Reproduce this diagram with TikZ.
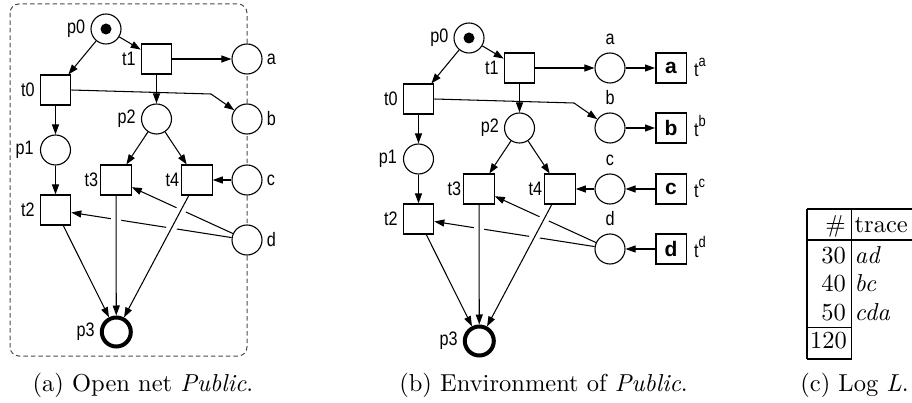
\documentclass[tikz,border=0pt]{standalone}
\usepackage{fontspec}
\usetikzlibrary{arrows.meta}
\setmainfont{lmroman10-regular}[Extension=.otf, ItalicFont=lmroman10-italic]
\newfontfamily\netfont[FakeStretch=0.83]{Liberation Sans}
\newfontfamily\boxfont{Liberation Sans}
\newcommand\lblsize{\netfont\fontsize{19.5}{21}\selectfont}
\newcommand\boxsize{\boxfont\bfseries\fontsize{21}{23}\selectfont}
\newcommand\capsize{\fontsize{24.5}{29}\selectfont}
\newcommand\envlabel[1]{t\raisebox{10pt}{\fontsize{15.5}{15.5}\selectfont #1}}

\tikzset{
  place/.style={circle, draw, fill=white, minimum size=30pt, inner sep=0pt, line width=1.1pt},
  trans/.style={rectangle, draw, fill=white, minimum width=30.5pt, minimum height=30pt, inner sep=0pt, line width=1.1pt},
  finalplace/.style={place, minimum size=29pt, line width=4pt},
  envbox/.style={trans, line width=1.5pt, font=\boxsize},
  arc/.style={-{Triangle[length=10pt,width=7pt]}, line width=1.05pt},
  halo/.style={draw=white, line width=10pt, shorten <=6pt, shorten >=45pt},
  lbl/.style={font=\lblsize, inner sep=1pt},
  captext/.style={font=\capsize, inner sep=0pt},
  rule/.style={line width=1.1pt},
  openborder/.style={draw=black!70, line width=1pt, dash pattern=on 4.5pt off 3pt, rounded corners=9pt},
}

% the open net Public; #1 places the labels of the interface places
\newcommand\publicnet[1]{%
  \node[place, label={[lbl,label distance=4pt]left:p0}] (p0) at (106,29) {};
  \fill (p0) circle (5.5pt);
  \node[trans, label={[lbl,label distance=4pt]left:t1}] (t1) at (156.5,59) {};
  \node[trans, label={[lbl,label distance=4pt]left:t0}] (t0) at (55.5,90) {};
  \node[place, label={[lbl,label distance=4pt]left:p2}] (p2) at (156.5,119) {};
  \node[place, label={[lbl,label distance=5pt]left:p1}] (p1) at (55.5,150) {};
  \node[trans, label={[lbl,label distance=1pt]left:t3}] (t3) at (116,180) {};
  \node[trans, label={[lbl,label distance=1pt]left:t4}] (t4) at (197,180) {};
  \node[trans, label={[lbl,label distance=4pt]left:t2}] (t2) at (55.5,210) {};
  \node[finalplace, label={[lbl,label distance=4pt]left:p3}] (p3) at (116.3,332) {};
  \node[place, label={#1:a}] (a) at (247,59) {};
  \node[place, label={#1:b}] (b) at (247,119) {};
  \node[place, label={#1:c}] (c) at (247,180) {};
  \node[place, label={#1:d}] (d) at (247,240) {};
  \coordinate (bend) at (211,94);
  \draw[arc] (p0) -- (t0);
  \draw[arc] (p0) -- (t1);
  \draw[arc] (t1) -- (a);
  \draw[arc] (t1) -- (p2);
  \draw[arc] (t0.east) -- (bend) -- (b);
  \draw[arc] (t0) -- (p1);
  \draw[arc] (p1) -- (t2);
  \draw[arc] (p2) -- (t3);
  \draw[arc] (p2) -- (t4);
  \draw[arc] (c) -- (t4);
  \draw[arc] (d) -- (t2);
  \draw[arc] (d) -- (t3);
  \draw[halo] (t3) -- (p3);
  \draw[halo] (t4) -- (p3);
  \draw[arc] (t2) -- (p3);
  \draw[arc] (t3) -- (p3);
  \draw[arc] (t4) -- (p3);
}

\begin{document}
\begin{tikzpicture}[x=1pt, y=-1pt]
\useasboundingbox (0,0) rectangle (912,403);

% (a) the open net with its interface on the border
\begin{scope}[name prefix=A-]
  \draw[openborder] (10,4) rectangle (247,356);
  \publicnet{[lbl,label distance=3pt]right}
\end{scope}
\node[captext, anchor=base] (capa) at (143,391) {(a) Open net \textit{Public}.};

% (b) the net together with its environment transitions
\begin{scope}[shift={(363,9)}, name prefix=B-]
  \publicnet{[lbl,label distance=7pt]above}
  \node[envbox] (ta) at (308,59) {a};
  \node[envbox] (tb) at (308,119) {b};
  \node[envbox] (tc) at (308,180) {c};
  \node[envbox] (td) at (308,240) {d};
  \node[lbl, anchor=base west, inner sep=0pt] (la) at (331,68) {\envlabel{a}};
  \node[lbl, anchor=base west, inner sep=0pt] (lb) at (331,128) {\envlabel{b}};
  \node[lbl, anchor=base west, inner sep=0pt] (lc) at (331,189) {\envlabel{c}};
  \node[lbl, anchor=base west, inner sep=0pt] (ld) at (331,249) {\envlabel{d}};
  \draw[arc] (a) -- (ta);
  \draw[arc] (b) -- (tb);
  \draw[arc] (tc) -- (c);
  \draw[arc] (td) -- (d);
\end{scope}
\node[captext, anchor=base] (capb) at (543.5,391) {(b) Environment of \textit{Public}.};

% (c) the event log
\draw[rule] (807,209) -- (912,209);
\draw[rule] (807,240) -- (912,240);
\draw[rule] (807,209) -- (807,359);
\draw[rule] (851.5,209) -- (851.5,359);
\draw[rule] (807,327.5) -- (851.5,327.5);
\draw[rule] (807,359) -- (851.5,359);
\node[captext, anchor=base east] (hnum) at (846,233) {\#};
\node[captext, anchor=base west] (htr) at (854.5,233) {trace};
\node[captext, anchor=base east] (n1) at (846,263) {30};
\node[captext, anchor=base west] (s1) at (854.5,263) {\textit{ad}};
\node[captext, anchor=base east] (n2) at (846,291) {40};
\node[captext, anchor=base west] (s2) at (854.5,291) {\textit{bc}};
\node[captext, anchor=base east] (n3) at (846,320) {50};
\node[captext, anchor=base west] (s3) at (854.5,320) {\textit{cda}};
\node[captext, anchor=base east] (ntot) at (847,348) {120};
\node[captext, anchor=base] (capc) at (854.5,391) {(c) Log \textit{L}.};
\end{tikzpicture}
\end{document}
